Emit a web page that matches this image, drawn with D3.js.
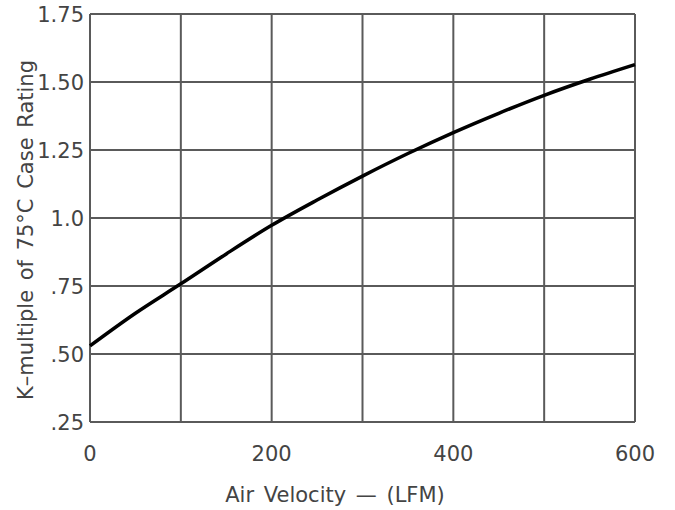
<!DOCTYPE html>
<html>
<head>
<meta charset="utf-8">
<script src="https://cdn.jsdelivr.net/npm/d3@7"></script>
<style>
  body { margin: 0; background: #fff; }
  text { font-family: "DejaVu Sans", sans-serif; fill: #444; }
</style>
</head>
<body>
<div id="chart"></div>
<script>
// air velocity (LFM) vs K-multiple
var velocity = [0, 50, 100, 150, 200, 250, 300, 350, 400, 450, 500, 550, 600];
var kMultiple = [0.53, 0.65, 0.758, 0.868, 0.973, 1.066, 1.154, 1.237, 1.314, 1.385, 1.451, 1.51, 1.564];
var xTicks = [0, 200, 400, 600];
var xGrid = [0, 100, 200, 300, 400, 500, 600];
var yTicks = [0.25, 0.5, 0.75, 1.0, 1.25, 1.5, 1.75];
var yTickLabels = [".25", ".50", ".75", "1.0", "1.25", "1.50", "1.75"];

function drawChart() {
  var width = 675, height = 510;
  var plotLeft = 90, plotRight = 635, plotTop = 14, plotBottom = 422;

  var svg = d3.select("#chart").append("svg")
    .attr("width", width)
    .attr("height", height);

  var x = d3.scaleLinear().domain([0, 600]).range([plotLeft, plotRight]);
  var y = d3.scaleLinear().domain([0.25, 1.75]).range([plotBottom, plotTop]);

  // grid
  svg.append("g").selectAll("line")
    .data(xGrid)
    .enter().append("line")
    .attr("x1", function(d) { return x(d); })
    .attr("x2", function(d) { return x(d); })
    .attr("y1", plotTop)
    .attr("y2", plotBottom)
    .attr("stroke", "#5a5a5a")
    .attr("stroke-width", 2);

  svg.append("g").selectAll("line")
    .data(yTicks)
    .enter().append("line")
    .attr("x1", plotLeft)
    .attr("x2", plotRight)
    .attr("y1", function(d) { return y(d); })
    .attr("y2", function(d) { return y(d); })
    .attr("stroke", "#5a5a5a")
    .attr("stroke-width", 2);

  // tick labels
  svg.append("g").selectAll("text")
    .data(xTicks)
    .enter().append("text")
    .attr("x", function(d) { return x(d); })
    .attr("y", 461)
    .attr("text-anchor", "middle")
    .style("font-size", "21px")
    .text(function(d) { return d; });

  svg.append("g").selectAll("text")
    .data(yTicks)
    .enter().append("text")
    .attr("x", 84)
    .attr("y", function(d) { return y(d); })
    .attr("dy", "0.38em")
    .attr("text-anchor", "end")
    .style("font-size", "21px")
    .text(function(d, i) { return yTickLabels[i]; });

  // curve
  var line = d3.line()
    .x(function(d, i) { return x(velocity[i]); })
    .y(function(d) { return y(d); })
    .curve(d3.curveMonotoneX);

  svg.append("path")
    .datum(kMultiple)
    .attr("d", line)
    .attr("fill", "none")
    .attr("stroke", "#000")
    .attr("stroke-width", 3.5);

  // axis titles
  svg.append("text")
    .attr("x", 335)
    .attr("y", 502)
    .attr("text-anchor", "middle")
    .style("font-size", "21px")
    .style("word-spacing", "3px")
    .text("Air Velocity \u2014 (LFM)");

  svg.append("text")
    .attr("transform", "translate(33,230) rotate(-90)")
    .attr("text-anchor", "middle")
    .style("font-size", "21px")
    .style("word-spacing", "3px")
    .text("K\u2013multiple of 75\u00B0C Case Rating");
}
drawChart();
</script>
</body>
</html>
